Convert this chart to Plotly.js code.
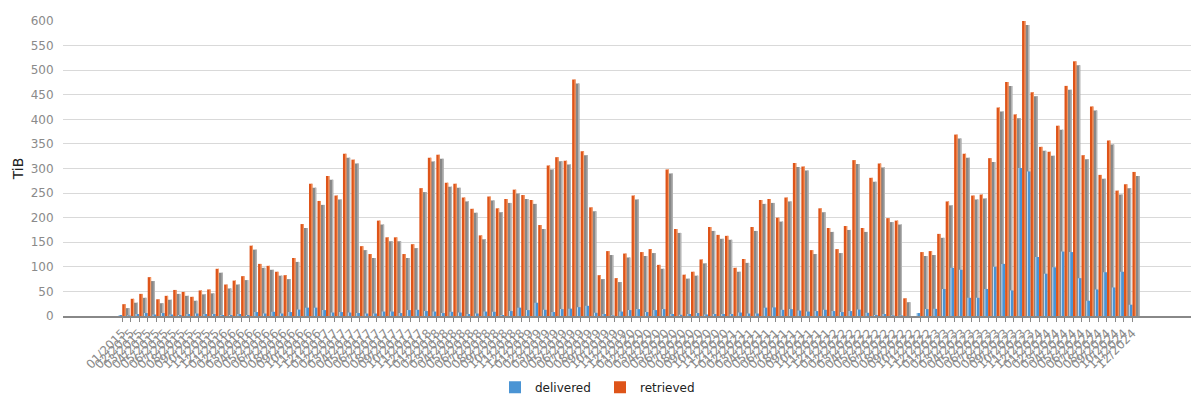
<!DOCTYPE html>
<html>
<head>
<meta charset="utf-8">
<script src="https://cdn.plot.ly/plotly-3.0.1.min.js"></script>
<style>html,body{margin:0;padding:0;background:#fff;}#chart{width:1200px;height:400px;}</style>
</head>
<body>
<div id="chart"></div>
<script>
const months = [
  "01/2015","02/2015","03/2015","04/2015","05/2015","06/2015","07/2015","08/2015","09/2015","10/2015","11/2015","12/2015",
  "01/2016","02/2016","03/2016","04/2016","05/2016","06/2016","07/2016","08/2016","09/2016","10/2016","11/2016","12/2016",
  "01/2017","02/2017","03/2017","04/2017","05/2017","06/2017","07/2017","08/2017","09/2017","10/2017","11/2017","12/2017",
  "01/2018","02/2018","03/2018","04/2018","05/2018","06/2018","07/2018","08/2018","09/2018","10/2018","11/2018","12/2018",
  "01/2019","02/2019","03/2019","04/2019","05/2019","06/2019","07/2019","08/2019","09/2019","10/2019","11/2019","12/2019",
  "01/2020","02/2020","03/2020","04/2020","05/2020","06/2020","07/2020","08/2020","09/2020","10/2020","11/2020","12/2020",
  "01/2021","02/2021","03/2021","04/2021","05/2021","06/2021","07/2021","08/2021","09/2021","10/2021","11/2021","12/2021",
  "01/2022","02/2022","03/2022","04/2022","05/2022","06/2022","07/2022","08/2022","09/2022","10/2022","11/2022","12/2022",
  "01/2023","02/2023","03/2023","04/2023","05/2023","06/2023","07/2023","08/2023","09/2023","10/2023","11/2023","12/2023",
  "01/2024","02/2024","03/2024","04/2024","05/2024","06/2024","07/2024","08/2024","09/2024","10/2024","11/2024","12/2024"
];

const delivered = [
  2, 1, 4, 6, 3, 6, 3, 2, 4, 5, 4, 4,
  2, 2, 4, 2, 8, 5, 8.5, 5, 8, 13, 17, 17,
  12, 7, 8, 7, 6, 5, 5, 9, 9, 6, 12, 12.5,
  10, 9, 6, 8.5, 7, 4, 5, 9, 8.5, 2, 10, 17,
  12, 27, 12.5, 8, 14, 15, 18, 20.7, 6.5, 4, 1, 9,
  12, 14, 8, 12, 14, 4, 2.5, 4, 6, 3, 4, 4,
  4, 7, 5, 5, 17, 17.5, 12.5, 14, 11, 9, 10, 12.5,
  10, 8, 10, 13, 6.5, 2, 4, 1, 1, 0, 6, 14,
  14.5, 55, 98, 94, 37, 37, 55, 100, 106, 52, 301, 294,
  120, 86, 99, 131, 130, 77, 31, 54, 89, 58, 90, 23
];

const retrieved = [
  24, 35, 45, 79, 34, 41, 53, 49, 39, 52, 54, 96,
  64, 72, 81, 143, 106, 102, 90, 83, 118, 187, 269, 234,
  285, 245, 330, 318, 142, 126, 194, 160, 160, 126, 146, 260,
  322, 328, 271, 269, 241, 218, 164, 243, 219, 238, 257, 246,
  236, 185, 306, 323, 316, 481, 335, 221, 83, 132, 77, 127,
  245, 130, 136, 104, 298, 177, 84, 90, 115, 181, 165, 163,
  98, 116, 181, 236, 238, 200, 241, 311, 304, 134, 219, 179,
  136, 183, 317, 179, 281, 310, 199, 194, 36, 0, 130, 132,
  167, 233, 369, 330, 245, 247, 321, 424, 476, 410, 600, 455,
  344, 334, 387, 468, 518, 327, 426, 287, 357, 255, 268, 293
];

const yTickValues = [0, 50, 100, 150, 200, 250, 300, 350, 400, 450, 500, 550, 600];
const seriesNames = ["delivered", "retrieved"];

const FONT = "DejaVu Sans, Verdana, sans-serif";
const SHADOW_BASE = -8;

const traces = [
  // shadow of retrieved bars (same data, shifted by base)
  {type: "bar", x: months, y: retrieved, base: SHADOW_BASE, offset: 0.38, width: 0.47,
   marker: {color: "#878787", line: {width: 0}}, showlegend: false, hoverinfo: "skip"},
  {type: "bar", x: months, y: retrieved, base: SHADOW_BASE, offset: 0.7, width: 0.15,
   marker: {color: "#b5b5b5", line: {width: 0}}, showlegend: false, hoverinfo: "skip"},
  // delivered
  {type: "bar", name: seriesNames[0], x: months, y: delivered, offset: -0.42, width: 0.42,
   marker: {color: "#4a94d4", line: {width: 0}}},
  {type: "bar", x: months, y: delivered, offset: -0.42, width: 0.09,
   marker: {color: "#e6f2fc", line: {width: 0}}, showlegend: false, hoverinfo: "skip"},
  // retrieved
  {type: "bar", name: seriesNames[1], x: months, y: retrieved, offset: 0, width: 0.4,
   marker: {color: "#de5419", line: {width: 0}}},
  {type: "bar", x: months, y: retrieved, offset: 0.27, width: 0.13,
   marker: {color: "#f49c68", line: {width: 0}}, showlegend: false, hoverinfo: "skip"}
];

const layout = {
  width: 1200, height: 400,
  margin: {l: 63, r: 9, t: 21, b: 84},
  paper_bgcolor: "#ffffff", plot_bgcolor: "#ffffff",
  font: {family: FONT, size: 12, color: "#888888"},
  barmode: "overlay",
  showlegend: true,
  legend: {orientation: "h", xref: "container", x: 0.5, xanchor: "center",
           yref: "container", y: 0.032, yanchor: "middle",
           font: {family: FONT, size: 12, color: "#222222"},
           itemwidth: 30, entrywidth: 60, entrywidthmode: "pixels", traceorder: "normal"},
  xaxis: {
    type: "category", range: [-6.98, 125.9], autorange: false,
    tickmode: "linear", tick0: 0, dtick: 1, tickangle: -45,
    tickfont: {family: FONT, size: 12, color: "#8a8a8a"},
    ticks: "outside", ticklen: 4, tickcolor: "#888888", tickwidth: 1,
    showline: true, linecolor: "#888888", linewidth: 1.5,
    showgrid: false, zeroline: false
  },
  yaxis: {
    range: [0, 600], autorange: false,
    tickmode: "array", tickvals: yTickValues,
    tickfont: {family: FONT, size: 12, color: "#8a8a8a"},
    ticks: "outside", ticklen: 6, tickcolor: "rgba(0,0,0,0)",
    showgrid: true, gridcolor: "#d9d9d9", gridwidth: 1,
    zeroline: false, showline: false,
    title: {text: "TiB", font: {family: FONT, size: 14, color: "#222222"}, standoff: 3}
  }
};

Plotly.newPlot("chart", traces, layout, {displayModeBar: false, staticPlot: true});
</script>
</body>
</html>
